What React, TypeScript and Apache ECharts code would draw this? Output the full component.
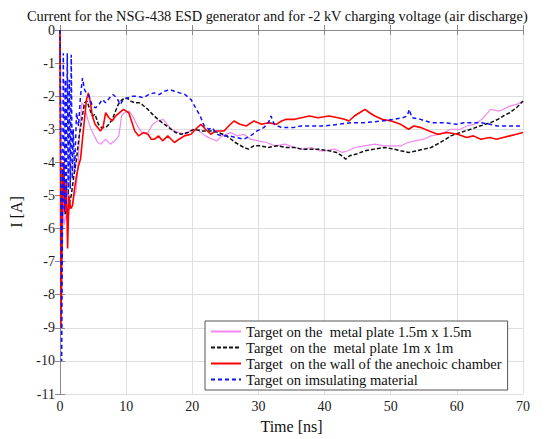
import React, { useEffect, useRef } from "react";
import * as echarts from "echarts";

const titleText = "Current for the NSG-438 ESD generator and for -2 kV charging voltage (air discharge)";
const xTicks = { min: 0, max: 70, interval: 10 };
const yTicks = { min: -11, max: 0, interval: 1 };

const seriesNames = [
  "Target on the  metal plate 1.5m x 1.5m",
  "Target  on the  metal plate 1m x 1m",
  "Target  on the wall of the anechoic chamber",
  "Target on imsulating material",
];

// [time ns, current A]
const plate15: number[][] = [
  [0, 0], [0.2, -7.0], [0.4, -4.5], [0.6, -5.9], [0.9, -5.6], [1.2, -5.8], [1.5, -5.3], [1.8, -5.4],
  [2.1, -5.0], [2.4, -4.9], [2.7, -4.2], [3.0, -3.0], [3.3, -2.2], [3.7, -2.3], [4.2, -2.7], [4.7, -3.0],
  [5.2, -3.2], [5.7, -3.4], [6.2, -3.45], [6.9, -3.3], [7.6, -3.45], [8.3, -3.35], [8.9, -3.2], [9.3, -2.6],
  [9.7, -2.5], [10.4, -2.45], [11.0, -2.6], [11.7, -2.9], [12.4, -3.1], [13.3, -3.1], [14.0, -2.85], [14.8, -2.75],
  [15.6, -2.7], [16.4, -2.9], [17.2, -3.05], [18.0, -3.1], [19.0, -3.15], [20.0, -3.0], [21.0, -3.05], [22.0, -3.2],
  [23.0, -3.3], [23.7, -3.35], [24.5, -3.2], [25.8, -3.1], [26.8, -3.2], [27.8, -3.15], [28.8, -3.3], [30.0, -3.35],
  [31.2, -3.4], [32.5, -3.5], [34.0, -3.45], [35.5, -3.55], [36.7, -3.6], [38.0, -3.55], [39.2, -3.65], [40.2, -3.65],
  [41.5, -3.6], [42.7, -3.7], [43.5, -3.65], [44.6, -3.55], [46.0, -3.5], [47.6, -3.45], [49.0, -3.5], [50.1, -3.5],
  [51.6, -3.5], [52.6, -3.4], [53.6, -3.35], [55.0, -3.3], [56.1, -3.2], [57.5, -3.15], [59.1, -3.0], [60.5, -3.0],
  [61.5, -2.9], [62.6, -2.85], [63.8, -2.7], [65.1, -2.4], [66.5, -2.45], [68.0, -2.3], [69.0, -2.25], [70, -2.15],
];

const plate1: number[][] = [
  [0, 0], [0.2, -8.0], [0.4, -4.2], [0.6, -5.0], [0.8, -5.6], [1.0, -5.3], [1.2, -5.5], [1.4, -5.25],
  [1.7, -5.0], [2.1, -4.4], [2.5, -3.9], [2.9, -3.2], [3.3, -2.7], [3.7, -2.2], [4.1, -2.15], [4.5, -2.4],
  [4.9, -2.6], [5.3, -2.55], [5.8, -2.85], [6.3, -2.95], [6.9, -2.95], [7.4, -2.85], [7.9, -2.7], [8.4, -2.45],
  [8.8, -2.25], [9.4, -2.1], [10.1, -2.05], [10.7, -2.15], [11.3, -2.2], [12.0, -2.2], [12.4, -2.25], [13.3, -2.4],
  [14.0, -2.55], [14.8, -2.7], [15.8, -2.85], [16.8, -3.0], [17.5, -3.1], [18.3, -3.15], [19.3, -3.1], [20.3, -3.0],
  [21.5, -3.05], [22.8, -3.05], [24.0, -3.1], [25.2, -3.2], [26.5, -3.4], [27.8, -3.55], [28.5, -3.6], [29.3, -3.5],
  [30.3, -3.5], [31.5, -3.55], [32.8, -3.5], [34.2, -3.55], [35.5, -3.55], [36.5, -3.6], [37.7, -3.6], [39.0, -3.6],
  [40.7, -3.65], [41.8, -3.7], [42.6, -3.8], [43.2, -3.9], [43.8, -3.8], [44.8, -3.75], [46.1, -3.65], [47.5, -3.6],
  [49.1, -3.55], [50.5, -3.6], [51.5, -3.65], [52.7, -3.7], [54.0, -3.65], [55.0, -3.6], [56.1, -3.55], [57.5, -3.4],
  [59.1, -3.2], [60.5, -3.1], [62.1, -3.0], [63.5, -2.9], [65.1, -2.8], [66.2, -2.7], [67.0, -2.6], [68.0, -2.5],
  [69.0, -2.35], [70, -2.15],
];

const wall: number[][] = [
  [0, 0], [0.15, -9.0], [0.35, -5.0], [0.55, -4.0], [0.75, -5.5], [0.95, -4.5], [1.15, -6.6], [1.35, -5.0],
  [1.6, -5.4], [1.9, -5.3], [2.2, -4.8], [2.5, -4.4], [2.8, -4.1], [3.1, -3.9], [3.4, -3.3], [3.7, -2.7],
  [4.0, -2.1], [4.3, -1.9], [4.6, -2.2], [4.9, -2.6], [5.3, -2.85], [5.7, -2.95], [6.1, -3.05], [6.5, -2.95],
  [6.9, -2.5], [7.4, -2.65], [7.9, -2.75], [8.4, -2.6], [9.0, -2.5], [9.6, -2.4], [10.0, -2.45], [10.4, -2.5],
  [10.9, -2.8], [11.3, -3.05], [11.9, -3.2], [12.6, -3.1], [13.3, -3.15], [13.8, -3.3], [14.3, -3.3], [14.9, -3.2],
  [15.5, -3.35], [16.3, -3.2], [16.8, -3.3], [17.3, -3.4], [18.0, -3.3], [18.8, -3.2], [19.8, -3.15], [20.5, -3.0],
  [21.3, -2.85], [22.0, -3.0], [22.8, -3.15], [23.5, -3.05], [24.8, -3.05], [25.5, -2.9], [26.3, -2.75], [27.2, -2.85],
  [28.2, -2.9], [29.3, -2.75], [30.5, -2.85], [31.5, -2.8], [32.7, -2.85], [33.5, -2.75], [34.2, -2.7], [35.5, -2.7],
  [36.5, -2.65], [37.7, -2.6], [39.0, -2.65], [40.7, -2.6], [42.0, -2.65], [43.0, -2.7], [43.7, -2.75], [44.5, -2.6],
  [45.3, -2.5], [46.1, -2.4], [46.8, -2.5], [47.6, -2.6], [48.7, -2.7], [50.1, -2.75], [51.5, -2.85], [52.7, -3.0],
  [53.5, -2.9], [54.6, -2.95], [55.8, -3.05], [57.1, -3.15], [58.5, -3.1], [60.1, -3.15], [61.5, -3.25], [62.5, -3.2],
  [63.6, -3.3], [65.0, -3.25], [66.0, -3.3], [67.0, -3.25], [68.0, -3.2], [69.0, -3.15], [70, -3.1],
];

const insulating: number[][] = [
  [0, 0], [0.1, -2.5], [0.25, -10.0], [0.4, -5.0], [0.5, -0.7], [0.65, -5.5], [0.8, -1.5], [0.95, -5.3],
  [1.1, -0.7], [1.25, -5.0], [1.4, -1.5], [1.55, -4.8], [1.7, -0.75], [1.85, -4.5], [2.0, -3.0], [2.2, -4.3],
  [2.5, -2.5], [2.8, -2.9], [3.1, -2.0], [3.4, -1.45], [3.7, -1.8], [4.0, -1.9], [4.4, -2.0], [4.9, -2.3],
  [5.4, -2.35], [5.9, -2.25], [6.4, -2.1], [6.9, -2.2], [7.5, -2.05], [8.0, -1.95], [8.6, -2.05], [9.1, -2.25],
  [9.6, -2.1], [10.3, -2.05], [11.0, -2.0], [11.8, -2.0], [12.6, -2.05], [13.4, -1.95], [14.2, -1.9], [15.0, -1.95],
  [15.8, -1.85], [16.6, -1.8], [17.3, -1.85], [18.1, -1.9], [18.9, -1.95], [19.8, -2.1], [20.5, -2.35], [21.2, -2.6],
  [21.8, -2.9], [22.5, -3.0], [23.0, -2.95], [23.7, -3.15], [24.5, -3.2], [25.5, -3.2], [26.7, -3.25], [27.8, -3.3],
  [28.8, -3.2], [29.8, -3.05], [30.8, -2.95], [31.5, -2.8], [31.9, -2.6], [32.4, -2.85], [33.5, -2.95], [35.2, -2.95],
  [36.5, -2.9], [38.0, -2.9], [40.1, -2.9], [42.0, -2.85], [44.2, -2.8], [46.0, -2.8], [48.7, -2.75], [50.5, -2.7],
  [51.8, -2.65], [52.5, -2.6], [52.8, -2.4], [53.2, -2.65], [54.5, -2.7], [56.1, -2.8], [58.0, -2.8], [60.0, -2.85],
  [61.0, -2.8], [63.6, -2.8], [65.0, -2.85], [66.1, -2.9], [68.0, -2.9], [70, -2.9],
];

const serif = "'Liberation Serif', 'DejaVu Serif', serif";

export default function App() {
  const ref = useRef<HTMLDivElement>(null);
  useEffect(() => {
    if (!ref.current) return;
    const chart = echarts.init(ref.current, null, { renderer: "svg" });
    const frameLine = { show: true, lineStyle: { color: "#8a8a8a", width: 1 } };
    const tick = { show: true, inside: true, length: 5, lineStyle: { color: "#8a8a8a" } };
    chart.setOption({
      animation: false,
      backgroundColor: "#ffffff",
      title: {
        text: titleText,
        left: 22,
        top: 4,
        textStyle: { fontFamily: serif, fontSize: 14.4, fontWeight: "normal", color: "#111" },
      },
      grid: { left: 54, right: 26, top: 30, bottom: 42 },
      legend: {
        data: seriesNames,
        orient: "vertical",
        left: 205,
        top: 321,
        padding: [3, 6, 3, 5],
        itemGap: 1,
        itemWidth: 30,
        itemHeight: 14,
        backgroundColor: "#ffffff",
        borderColor: "#555",
        borderWidth: 1,
        borderRadius: 0,
        itemStyle: { opacity: 0 },
        textStyle: { fontFamily: serif, fontSize: 14.6, color: "#111" },
      },
      xAxis: [
        {
          type: "value",
          min: xTicks.min,
          max: xTicks.max,
          interval: xTicks.interval,
          name: "Time [ns]",
          nameLocation: "middle",
          nameGap: 24,
          nameTextStyle: { fontFamily: serif, fontSize: 16, color: "#111" },
          axisLine: frameLine,
          axisTick: tick,
          axisLabel: { fontFamily: serif, fontSize: 14, color: "#222", margin: 5 },
          splitLine: { show: true, lineStyle: { color: "#dedede", width: 1 } },
        },
        {
          type: "value",
          position: "top",
          min: xTicks.min,
          max: xTicks.max,
          interval: xTicks.interval,
          axisLine: frameLine,
          axisTick: tick,
          axisLabel: { show: false },
          splitLine: { show: false },
        },
      ],
      yAxis: [
        {
          type: "value",
          min: yTicks.min,
          max: yTicks.max,
          interval: yTicks.interval,
          name: "I [A]",
          nameLocation: "middle",
          nameGap: 36,
          nameTextStyle: { fontFamily: serif, fontSize: 16, color: "#111" },
          axisLine: frameLine,
          axisTick: tick,
          axisLabel: { fontFamily: serif, fontSize: 14, color: "#222", margin: 5 },
          splitLine: { show: true, lineStyle: { color: "#dedede", width: 1 } },
        },
        {
          type: "value",
          position: "right",
          min: yTicks.min,
          max: yTicks.max,
          interval: yTicks.interval,
          axisLine: frameLine,
          axisTick: tick,
          axisLabel: { show: false },
          splitLine: { show: false },
        },
      ],
      series: [
        {
          name: seriesNames[0],
          type: "line",
          data: plate15,
          symbol: "none",
          lineStyle: { color: "#f088f0", width: 1.2 },
          itemStyle: { color: "#f088f0" },
        },
        {
          name: seriesNames[1],
          type: "line",
          data: plate1,
          symbol: "none",
          lineStyle: { color: "#111111", width: 1.5, type: [4, 2] },
          itemStyle: { color: "#111111" },
        },
        {
          name: seriesNames[2],
          type: "line",
          data: wall,
          symbol: "none",
          lineStyle: { color: "#ff0000", width: 1.6 },
          itemStyle: { color: "#ff0000" },
        },
        {
          name: seriesNames[3],
          type: "line",
          data: insulating,
          symbol: "none",
          lineStyle: { color: "#1010ff", width: 1.5, type: [4, 3] },
          itemStyle: { color: "#1010ff" },
        },
      ],
    });
    return () => chart.dispose();
  }, []);
  return (
    <div
      ref={ref}
      style={{ position: "fixed", left: 0, top: 0, width: 549, height: 439, background: "#fff" }}
    />
  );
}
